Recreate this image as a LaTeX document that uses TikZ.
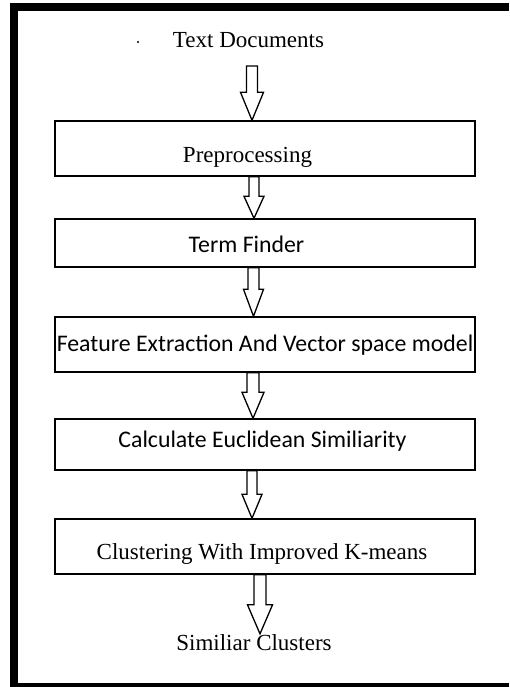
\documentclass[tikz,border=0pt]{standalone}
\usepackage{fontspec}
\setmainfont{Liberation Serif}
\newfontfamily\calibrifont{Carlito}
\usetikzlibrary{calc}
\tikzset{
 box/.style={draw, line width=1.4pt, minimum width=420pt, inner sep=0pt, text depth=0pt},
 serif/.style={font=\fontsize{23}{27}\selectfont},
 sans/.style={font=\calibrifont\fontsize{23.8}{28}\selectfont},
 arrowline/.style={draw, line width=1.3pt, line join=miter, fill=white},
 plain/.style={inner sep=0pt, anchor=base}
}
% #1 start, #2 target, #3 shaft half width, #4 head half width, #5 head length
\newcommand\blockarrow[5]{%
  \path[arrowline] let \p1=(#1), \p2=(#2) in
   (\x1-#3pt,\y1) -- (\x1+#3pt,\y1) -- (\x1+#3pt,\y2+#5pt) -- (\x1+#4pt,\y2+#5pt)
   -- (\x1,\y2) -- (\x1-#4pt,\y2+#5pt) -- (\x1-#3pt,\y2+#5pt) -- cycle;}
\begin{document}
\begin{tikzpicture}[x=1pt,y=-1pt]
\fill[white] (0,0) rectangle (509,687);
% frame: top, left and bottom bars
\fill (10,3) rectangle (509,11);
\fill (10,3) rectangle (18,687);
\fill (10,683) rectangle (509,687);

\node[serif, plain] (td) at (248.5,48) {Text Documents};
\node[circle, fill, inner sep=0.8pt] (dot) at (138,42) {};
\coordinate (a1) at (252,66);

\node[box, serif, minimum height=55pt, text height=27pt] (pre) at (265,148.5) {\hspace*{-35pt}Preprocessing};
\node[box, sans, minimum height=48pt, text height=19pt] (tf) at (265,243) {\hspace*{-37pt}Term Finder};
\node[box, sans, minimum height=55pt, text height=13pt] (fe) at (265,344.5) {Feature Extraction And Vector space model};
\node[box, sans, minimum height=51pt, text height=5pt] (ce) at (265,444.5) {\hspace*{-5pt}Calculate Euclidean Similiarity};
\node[box, serif, minimum height=55pt, text height=25pt] (cl) at (265,546.5) {\hspace*{-6pt}Clustering With Improved K-means};

\node[serif, plain] (sc) at (254,650) {Similiar Clusters};

\blockarrow{a1}{pre.north}{5.5}{11.5}{28}
\blockarrow{$(pre.south)+(-11,0)$}{tf.north}{5}{10}{22}
\blockarrow{$(tf.south)+(-11.5,0)$}{fe.north}{5.5}{10}{27}
\blockarrow{$(fe.south)+(-12,0)$}{ce.north}{6}{11}{26}
\blockarrow{$(ce.south)+(-13,0)$}{cl.north}{5}{10}{24}
\blockarrow{$(cl.south)+(-5,0)$}{sc.north}{6}{12.5}{29}
\useasboundingbox (0,0) rectangle (509,687);
\end{tikzpicture}
\end{document}
